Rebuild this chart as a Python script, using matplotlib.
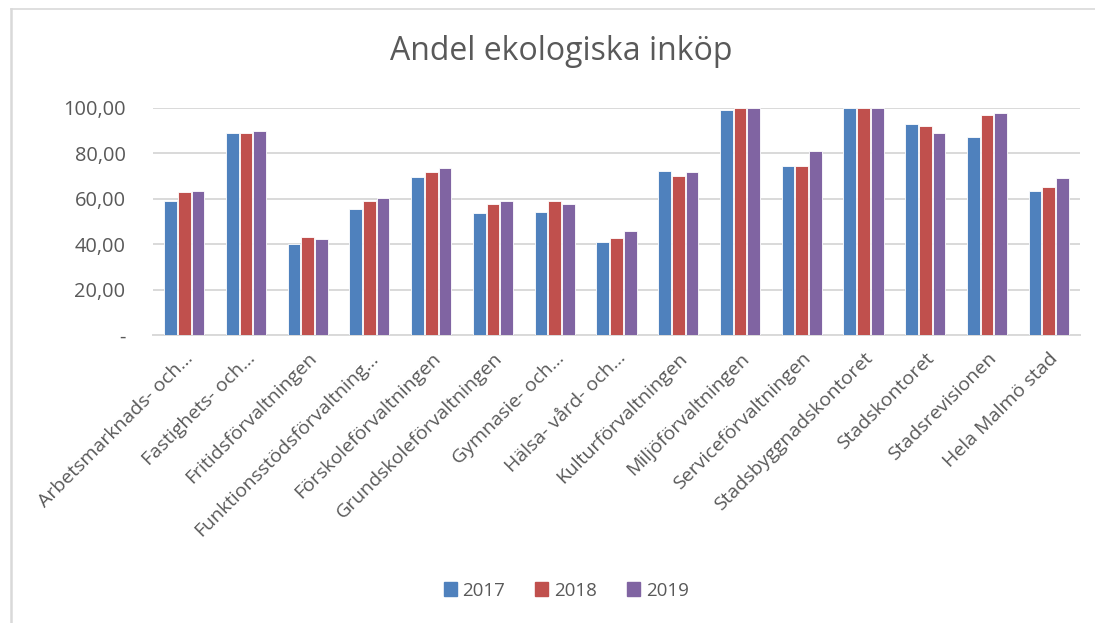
import matplotlib.pyplot as plt
import numpy as np
from matplotlib.lines import Line2D

# Data
categories = ["Arbetsmarknads- och...", "Fastighets- och...", "Fritidsförvaltningen",
              "Funktionsstödsförvaltning...", "Förskoleförvaltningen", "Grundskoleförvaltningen",
              "Gymnasie- och...", "Hälsa- vård- och...", "Kulturförvaltningen",
              "Miljöförvaltningen", "Serviceförvaltningen", "Stadsbyggnadskontoret",
              "Stadskontoret", "Stadsrevisionen", "Hela Malmö stad"]
years = ["2017", "2018", "2019"]
values_2017 = [58.9, 89.1, 40.3, 55.3, 69.4, 53.8, 54.3, 40.9, 72.4, 99.1, 74.2, 100.0, 92.8, 87.2, 63.2]
values_2018 = [63.0, 88.7, 43.0, 59.1, 71.7, 57.9, 58.9, 42.7, 69.8, 100.0, 74.6, 100.0, 91.8, 96.9, 65.0]
values_2019 = [63.5, 90.0, 42.5, 60.4, 73.3, 58.9, 57.6, 45.7, 71.7, 100.0, 80.8, 100.0, 89.1, 97.5, 68.9]
yticks = [0, 20, 40, 60, 80, 100]
ytick_labels = ["-", "20,00", "40,00", "60,00", "80,00", "100,00"]

colors = ["#4F81BD", "#C0504D", "#8064A2"]
text_color = "#595959"
grid_color = "#D9D9D9"

plt.rcParams['font.family'] = ['Open Sans', 'DejaVu Sans']

fig = plt.figure(figsize=(10.95, 6.23), dpi=100)
ax = fig.add_axes([0.14, 0.462, 0.846, 0.365])

x = np.arange(len(categories))
pitch = 0.222
series = [values_2017, values_2018, values_2019]
for i, vals in enumerate(series):
    ax.bar(x + (i - 1) * pitch, vals, width=0.205, color=colors[i],
           edgecolor="white", linewidth=0.6, zorder=3, label=years[i])

ax.set_xlim(-0.5, len(categories) - 0.5)
ax.set_ylim(0, 100)
ax.set_yticks(yticks)
ax.set_yticklabels(ytick_labels, fontsize=14.4, color=text_color)
ax.set_xticks(x)
ax.set_xticklabels(categories, rotation=45, ha="right", rotation_mode="anchor",
                   fontsize=14, color=text_color)
ax.tick_params(axis="both", length=0)
ax.tick_params(axis="y", pad=20)
ax.tick_params(axis="x", pad=10)

ax.grid(axis="y", color=grid_color, linewidth=1.4, zorder=0)
for s in ["left", "right", "top"]:
    ax.spines[s].set_visible(False)
ax.spines["bottom"].set_color(grid_color)
ax.spines["bottom"].set_linewidth(1.4)

fig.text(0.513, 0.917, "Andel ekologiska inköp", ha="center", va="center",
         fontsize=23, color=text_color)

handles = [plt.Rectangle((0, 0), 1, 1, color=c) for c in colors]
fig.legend(handles, years, loc="center", bbox_to_anchor=(0.517, 0.052), ncol=3,
           frameon=False, fontsize=13.5, handlelength=0.7, handleheight=0.7,
           handletextpad=0.3, columnspacing=1.6, labelcolor=text_color)

# light frame of the chart area (top and left edges visible)
fig.add_artist(Line2D([11 / 1095, 1.0], [1 - 9 / 623, 1 - 9 / 623], color=grid_color,
                      linewidth=1.2, transform=fig.transFigure))
fig.add_artist(Line2D([11 / 1095, 11 / 1095], [0.0, 1 - 9 / 623], color=grid_color,
                      linewidth=1.8, transform=fig.transFigure))

fig.savefig("out.png", dpi=100)
